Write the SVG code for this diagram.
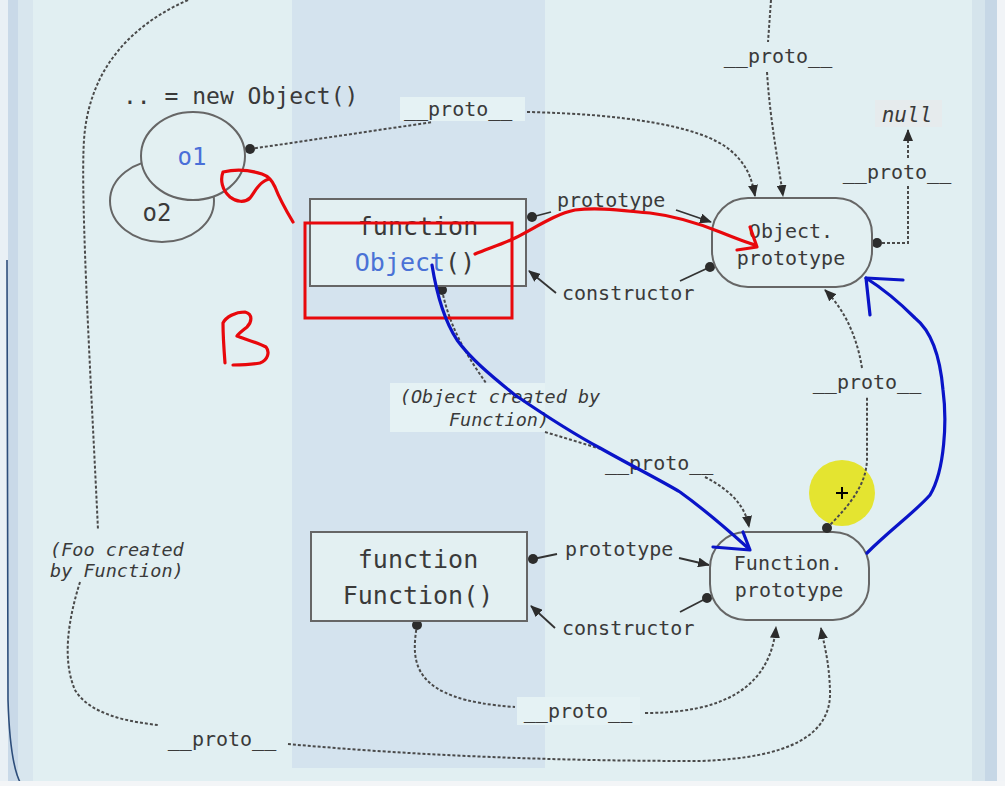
<svg xmlns="http://www.w3.org/2000/svg" width="1005" height="786" viewBox="0 0 1005 786">
<defs>
<style>
.t{font-family:"DejaVu Sans Mono","Liberation Mono",monospace;fill:#3a3a3a}
.big{font-size:25px}
.lbl{font-size:20px}
.it{font-size:18.5px;font-style:italic}
.node{fill:#e3f0f2;stroke:#666;stroke-width:2}
.dash{fill:none;stroke:#4a4a4a;stroke-width:2;stroke-dasharray:3 2}
.solid{fill:none;stroke:#333;stroke-width:1.8}
.dot{fill:#2c2c2c}
.red{fill:none;stroke:#e8080c;stroke-width:3.2;stroke-linecap:round;stroke-linejoin:round}
.blue{fill:none;stroke:#0a14c8;stroke-width:3.2;stroke-linecap:round;stroke-linejoin:round}
.lb{fill:#e5f2f4}
</style>
<marker id="arr" viewBox="0 0 12 10" refX="11" refY="5" markerWidth="12" markerHeight="10" markerUnits="userSpaceOnUse" orient="auto">
<path d="M0,0 L12,5 L0,10 Z" fill="#2c2c2c"/>
</marker>
</defs>
<!-- background -->
<rect x="0" y="0" width="1005" height="786" fill="#e1eff2"/>
<rect x="292" y="0" width="253" height="768" fill="#d4e3ee"/>
<rect x="0" y="0" width="8" height="786" fill="#e9f0f5"/>
<rect x="8" y="0" width="10" height="782" fill="#c9d9e8"/>
<rect x="18" y="0" width="15" height="782" fill="#d8e6ee"/>
<path d="M7,260 L8,700 Q10,765 21,784" fill="none" stroke="#2d4d7a" stroke-width="1.6"/>
<rect x="972" y="0" width="13" height="786" fill="#d5e4ec"/>
<rect x="985" y="0" width="12" height="786" fill="#c6d7e6"/>
<rect x="997" y="0" width="8" height="786" fill="#f1f4f7"/>
<rect x="0" y="781" width="1005" height="5" fill="#f3f5f7"/>

<!-- connectors -->
<g id="connectors">
<!-- o1 __proto__ -->
<path class="dash" d="M250,149 L433,122"/>
<circle class="dot" cx="250" cy="149" r="5"/>
<rect class="lb" x="400" y="97" width="125" height="24"/>
<text class="t lbl" x="404" y="116">__proto__</text>
<path class="dash" d="M527,112 C620,114 700,125 730,150 C748,165 752,180 755,196" marker-end="url(#arr)"/>
<!-- top __proto__ -->
<path class="dash" d="M771,0 L768,42"/>
<text class="t lbl" x="778" y="63" text-anchor="middle">__proto__</text>
<path class="dash" d="M767,72 C770,120 778,160 783,196" marker-end="url(#arr)"/>
<!-- null -->
<path class="dash" d="M877,243 L908,243 L908,186"/>
<circle class="dot" cx="877" cy="243" r="5"/>
<text class="t lbl" x="897" y="179" text-anchor="middle">__proto__</text>
<path class="dash" d="M908,158 L908,130" marker-end="url(#arr)"/>
<!-- Object prototype / constructor -->
<path class="solid" d="M532,217 L551,212"/>
<circle class="dot" cx="532" cy="217" r="5"/>
<text class="t lbl" x="557" y="207">prototype</text>
<path class="solid" d="M676,210 L711,222" marker-end="url(#arr)"/>
<path class="solid" d="M710,267 L680,281"/>
<circle class="dot" cx="710" cy="267" r="5"/>
<text class="t lbl" x="562" y="300">constructor</text>
<path class="solid" d="M556,293 L529,271" marker-end="url(#arr)"/>
<!-- Object created by Function -->
<path class="dash" d="M442,290 C450,330 470,360 486,383"/>
<circle class="dot" cx="442" cy="290" r="5"/>
<rect class="lb" x="390" y="383" width="155" height="49"/>
<text class="t it" x="500" y="403" text-anchor="middle">(Object created by</text>
<text class="t it" x="499" y="426" text-anchor="middle">Function)</text>
<path class="dash" d="M545,432 C565,438 585,444 604,450"/>
<text class="t lbl" x="605" y="470">__proto__</text>
<path class="dash" d="M705,477 C730,490 745,505 749,527" marker-end="url(#arr)"/>
<!-- Function Function __proto__ -->
<path class="dash" d="M417,625 C411,662 410,700 515,707"/>
<circle class="dot" cx="417" cy="625" r="5"/>
<rect class="lb" x="517" y="697" width="123" height="28"/>
<text class="t lbl" x="578" y="718" text-anchor="middle">__proto__</text>
<path class="dash" d="M645,713 C720,713 770,690 776,627" marker-end="url(#arr)"/>
<!-- Function prototype / constructor -->
<path class="solid" d="M533,559 L557,554"/>
<circle class="dot" cx="533" cy="559" r="5"/>
<text class="t lbl" x="565" y="556">prototype</text>
<path class="solid" d="M679,558 L709,565" marker-end="url(#arr)"/>
<path class="solid" d="M707,598 L680,612"/>
<circle class="dot" cx="707" cy="598" r="5"/>
<text class="t lbl" x="562" y="635">constructor</text>
<path class="solid" d="M555,628 L531,606" marker-end="url(#arr)"/>
<!-- bottom long -->
<text class="t lbl" x="222" y="746" text-anchor="middle">__proto__</text>
<path class="dash" d="M288,744 C420,756 560,761 700,761 C790,758 832,735 830,690 C829,660 824,645 821,628" marker-end="url(#arr)"/>
<!-- left big curve -->
<path class="dash" d="M188,0 C120,30 88,80 84,140 C80,200 92,400 98,530"/>
<text class="t it" x="50" y="556">(Foo created</text>
<text class="t it" x="50" y="577">by Function)</text>
<path class="dash" d="M80,582 C68,620 62,660 75,690 C90,715 130,722 158,725"/>
</g>

<!-- nodes -->
<g id="o2">
<ellipse class="node" cx="162" cy="201" rx="52" ry="41"/>
<text class="t" x="157" y="221" font-size="24" text-anchor="middle">o2</text>
</g>
<g id="o1">
<ellipse class="node" cx="193" cy="156" rx="52" ry="44"/>
<text class="t" x="192" y="165" font-size="24" text-anchor="middle" style="fill:#4a6fd8">o1</text>
</g>
<g id="new-object">
<text class="t" x="123" y="104" font-size="23">.. = new Object()</text>
</g>
<g id="function-object">
<rect class="node" x="310" y="199" width="216" height="87"/>
<text class="t big" x="418" y="235" text-anchor="middle">function</text>
<text class="t big" x="415" y="271" text-anchor="middle"><tspan style="fill:#4a72d6">Object</tspan>()</text>
</g>
<g id="object-prototype">
<rect class="node" x="712" y="198" width="160" height="89" rx="36" ry="36"/>
<text class="t lbl" x="791" y="238" text-anchor="middle">Object.</text>
<text class="t lbl" x="791" y="265" text-anchor="middle">prototype</text>
</g>
<g id="null">
<rect x="875" y="100" width="67" height="27" fill="#e6ebed"/>
<text class="t" x="907" y="122" font-size="21" font-style="italic" text-anchor="middle">null</text>
</g>
<g id="function-function">
<rect class="node" x="311" y="532" width="216" height="89"/>
<text class="t big" x="418" y="568" text-anchor="middle">function</text>
<text class="t big" x="418" y="604" text-anchor="middle">Function()</text>
</g>
<g id="function-prototype">
<rect class="node" x="710" y="532" width="159" height="88" rx="36" ry="36"/>
<text class="t lbl" x="788" y="570" text-anchor="middle">Function.</text>
<text class="t lbl" x="789" y="597" text-anchor="middle">prototype</text>
</g>

<!-- annotations -->
<g id="annotations">
<rect x="305" y="223" width="207" height="95" fill="none" stroke="#e8080c" stroke-width="3"/>
<path class="red" d="M293,222 C287,212 280,200 275,187 C272,180 268,176 262,174 C250,170 235,169 223,172 C220,180 222,190 230,197 C236,202 245,203 250,198 C254,193 257,186 263,182 C266,180 268,179 270,179"/>
<path class="red" d="M225,363 C224,350 223,335 223,323 C226,317 235,312 245,312 C253,314 252,322 247,327 C242,331 238,334 237,336 C245,339 258,343 266,347 C270,352 268,360 260,363 C250,365 240,365 233,365"/>
<path class="red" d="M475,254 C490,248 505,243 515,238 C535,228 555,214 575,210 C600,207 625,211 650,213 C675,216 700,224 720,232 C735,238 745,242 755,245"/>
<path class="red" d="M737,250 L757,247 L750,227"/>
<path class="blue" d="M432,265 C436,290 444,320 457,340 C470,358 490,375 515,395 C540,412 570,432 600,448 C630,465 660,480 680,492 C705,510 728,530 748,548"/>
<path class="blue" d="M713,547 L750,550 L743,532"/>
<path class="blue" d="M867,553 C890,530 915,512 930,495 C945,470 947,420 943,390 C940,355 930,330 915,318 C900,303 885,290 866,278"/>
<path class="blue" d="M903,280 L866,278 L870,315"/>
<circle cx="842" cy="493" r="33" fill="#e4e205" fill-opacity="0.82"/>
<path d="M836,493 L848,493 M842,487 L842,499" stroke="#000" stroke-width="2"/>
</g>
<!-- Function.prototype __proto__ drawn over highlight -->
<g id="fp-proto">
<path class="dash" d="M827,528 C850,505 866,485 867,460 L867,397"/>
<circle class="dot" cx="827" cy="528" r="5"/>
<text class="t lbl" x="867" y="389" text-anchor="middle">__proto__</text>
<path class="dash" d="M862,368 C856,330 840,305 825,290" marker-end="url(#arr)"/>
</g>
</svg>
